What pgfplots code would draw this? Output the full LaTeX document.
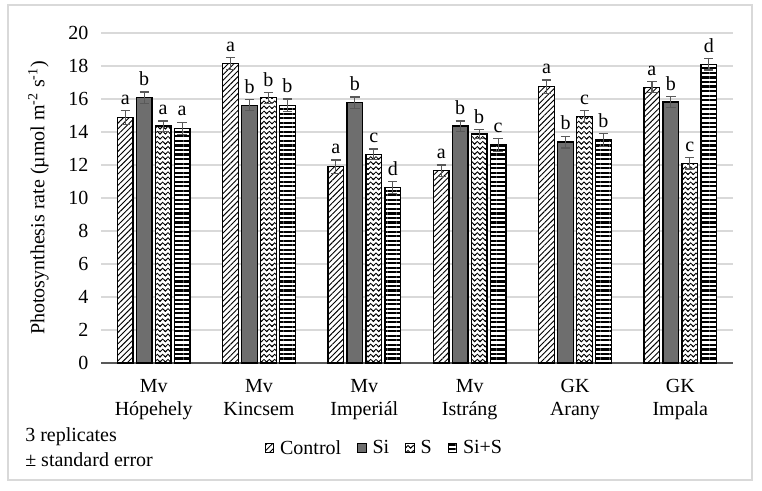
\documentclass[border=0pt]{standalone}
\usepackage{fontspec}
\setmainfont{Liberation Serif}
\usepackage{pgfplots}
\pgfplotsset{compat=1.18}
\usepackage{pgfplotstable}
\usetikzlibrary{patterns,patterns.meta}

\pgfdeclarepatternformonly{waves}{\pgfqpoint{-1pt}{-1pt}}{\pgfqpoint{5pt}{5pt}}{\pgfqpoint{4pt}{3.8pt}}{%
  \pgfsetlinewidth{0.6pt}%
  \pgfpathmoveto{\pgfqpoint{-1pt}{2pt}}%
  \pgfpathlineto{\pgfqpoint{0pt}{1pt}}%
  \pgfpathlineto{\pgfqpoint{2pt}{3pt}}%
  \pgfpathlineto{\pgfqpoint{4pt}{1pt}}%
  \pgfpathlineto{\pgfqpoint{5pt}{2pt}}%
  \pgfusepath{stroke}%
}

\definecolor{sigray}{HTML}{6E6E6E}
\definecolor{gridgray}{HTML}{D9D9D9}
\definecolor{errgray}{HTML}{595959}

\pgfplotstableread{
x y err lab
0 14.87 0.42 a
1 18.14 0.36 a
2 11.90 0.40 a
3 11.66 0.34 a
4 16.75 0.40 a
5 16.71 0.34 a
}\control
\pgfplotstableread{
x y err lab
0 16.08 0.34 b
1 15.62 0.34 b
2 15.78 0.34 b
3 14.36 0.31 b
4 13.39 0.36 b
5 15.82 0.32 b
}\si
\pgfplotstableread{
x y err lab
0 14.36 0.31 a
1 16.08 0.33 b
2 12.65 0.32 c
3 13.88 0.28 b
4 14.93 0.36 c
5 12.10 0.34 c
}\s
\pgfplotstableread{
x y err lab
0 14.22 0.38 a
1 15.62 0.38 b
2 10.63 0.38 d
3 13.21 0.41 c
4 13.52 0.38 b
5 18.10 0.34 d
}\sis

\newcommand{\fs}{\fontsize{15}{16}\selectfont}

\pgfplotsset{
  mybar/.style={
    draw=black, line width=1pt,
    legend image code/.code={\draw[##1,line width=0.6pt] (0pt,-3.2pt) rectangle (6.4pt,3.2pt);},
    error bars/.cd, y dir=both, y explicit,
    error bar style={draw=errgray, line width=0.9pt, solid},
    error mark options={rotate=90, mark size=3.5pt, line width=0.9pt, draw=errgray},
    /pgfplots/.cd,
    nodes near coords,
    point meta=explicit symbolic,
    visualization depends on={\thisrow{err} \as \myerr},
    every node near coord/.append style={font=\fs, inner sep=0.5pt, anchor=south, text=black, yshift={\myerr*12.375pt+3.5pt}},
  }
}

\begin{document}
\begin{tikzpicture}
\useasboundingbox (0,0) rectangle (571.5pt,367.5pt);
\draw[color=gridgray, line width=1.1pt] (6pt,7.5pt) rectangle (564pt,363.75pt);
\node[anchor=west, align=left, inner sep=0pt, font=\fontsize{15}{18.75}\selectfont] at (18.75pt,32pt) {3 replicates\\± standard error};
\begin{axis}[
  at={(75.75pt,95.25pt)}, anchor=south west,
  scale only axis, width=474pt, height=247.5pt,
  ybar,
  xmin=-0.5, xmax=5.5, ymin=0, ymax=20,
  ytick={0,2,...,20},
  xtick={0,1,2,3,4,5},
  xticklabels={{Mv\\Hópehely},{Mv\\Kincsem},{Mv\\Imperiál},{Mv\\Istráng},{GK\\Arany},{GK\\Impala}},
  xticklabel style={align=center, font=\fontsize{15}{17}\selectfont, yshift=-9pt},
  yticklabel style={font=\fs, xshift=-6pt},
  /pgf/number format/assume math mode=true,
  axis x line*=bottom, axis y line*=left,
  x axis line style={draw=errgray, line width=1pt, -},
  y axis line style={draw=none},
  major tick length=0pt,
  ymajorgrids, grid style={draw=gridgray, line width=1pt},
  ylabel={Photosynthesis rate (µmol m\textsuperscript{-2} s\textsuperscript{-1})},
  every axis y label/.style={at={(axis description cs:-0.099,0.5)}, rotate=90, anchor=center, font=\fs},
  legend columns=4,
  legend style={at={(0.449,-0.258)}, anchor=center, draw=none, fill=none, font=\fs,
    /tikz/every even column/.append style={column sep=10pt},
    /tikz/every odd column/.append style={column sep=2.5pt}},
  legend cell align=left,
]
\addplot[mybar, bar width=0.147, bar shift=-0.27, fill=white, postaction={pattern={Lines[angle=45,distance=3pt,line width=0.7pt]}}]
  table[x=x,y=y,y error=err,meta=lab]{\control};
\addplot[mybar, bar width=0.147, bar shift=-0.09, fill=sigray]
  table[x=x,y=y,y error=err,meta=lab]{\si};
\addplot[mybar, bar width=0.147, bar shift=0.09, fill=white, postaction={pattern=waves}]
  table[x=x,y=y,y error=err,meta=lab]{\s};
\addplot[mybar, bar width=0.147, bar shift=0.27, fill=white, postaction={pattern={Lines[angle=0,distance=3.4pt,line width=1.6pt]}}]
  table[x=x,y=y,y error=err,meta=lab]{\sis};
\legend{Control,Si,S,Si+S}
\end{axis}
\end{tikzpicture}
\end{document}
